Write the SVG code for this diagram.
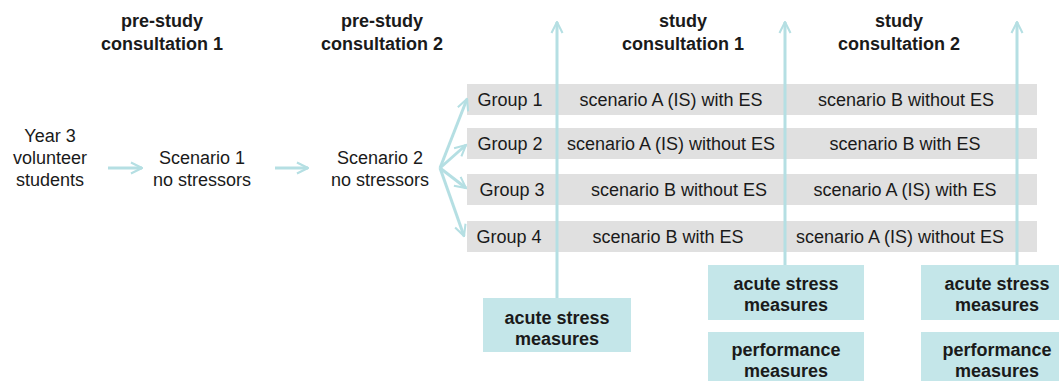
<svg xmlns="http://www.w3.org/2000/svg" width="1059" height="381" viewBox="0 0 1059 381">
<style>
text{font-family:"Liberation Sans",Arial,sans-serif;font-size:18px;fill:#1a1a1a;text-anchor:middle}
.h{font-weight:bold}
.bar{fill:#e0e0e0}
.box{fill:#c4e6e9}
.ln{stroke:#b5dfe3;stroke-width:3;fill:none}
</style>
<defs>
<marker id="ah" viewBox="0 0 10 10" refX="9" refY="5" markerWidth="4.6" markerHeight="4.6" orient="auto" markerUnits="strokeWidth">
<path d="M1,1 L9,5 L1,9" fill="none" stroke="#b5dfe3" stroke-width="1.5" stroke-linejoin="miter"/>
</marker>
</defs>
<rect width="1059" height="381" fill="#fff"/>
<g id="headers">
<text class="h" x="162" y="27">pre-study</text>
<text class="h" x="162" y="50">consultation 1</text>
<text class="h" x="382" y="27">pre-study</text>
<text class="h" x="382" y="50">consultation 2</text>
<text class="h" x="683" y="27">study</text>
<text class="h" x="683" y="50">consultation 1</text>
<text class="h" x="899" y="27">study</text>
<text class="h" x="899" y="50">consultation 2</text>
</g>
<g id="students"><text x="50" y="142">Year 3</text><text x="50" y="164">volunteer</text><text x="50" y="186">students</text></g>
<g id="scenario1"><text x="202" y="164">Scenario 1</text><text x="202" y="186">no stressors</text></g>
<g id="scenario2"><text x="380" y="164">Scenario 2</text><text x="380" y="186">no stressors</text></g>
<g id="group1"><rect class="bar" x="467" y="84" width="570" height="31"/><text x="510" y="106">Group 1</text><text x="671" y="106">scenario A (IS) with ES</text><text x="906" y="106">scenario B without ES</text></g>
<g id="group2"><rect class="bar" x="467" y="128" width="570" height="31"/><text x="510" y="150">Group 2</text><text x="671" y="150">scenario A (IS) without ES</text><text x="905" y="150">scenario B with ES</text></g>
<g id="group3"><rect class="bar" x="467" y="174" width="570" height="31"/><text x="512" y="196">Group 3</text><text x="679" y="196">scenario B without ES</text><text x="905" y="196">scenario A (IS) with ES</text></g>
<g id="group4"><rect class="bar" x="467" y="221" width="570" height="31"/><text x="509" y="243">Group 4</text><text x="668" y="243">scenario B with ES</text><text x="900" y="243">scenario A (IS) without ES</text></g>
<g id="connectors">
<line class="ln" x1="108" y1="168" x2="142" y2="168" marker-end="url(#ah)"/>
<line class="ln" x1="275" y1="168" x2="308" y2="168" marker-end="url(#ah)"/>
<line class="ln" x1="440" y1="168" x2="467" y2="99" marker-end="url(#ah)"/>
<line class="ln" x1="440" y1="168" x2="466" y2="145" marker-end="url(#ah)"/>
<line class="ln" x1="440" y1="168" x2="466" y2="188" marker-end="url(#ah)"/>
<line class="ln" x1="440" y1="168" x2="464" y2="236" marker-end="url(#ah)"/>
<line class="ln" x1="557" y1="298" x2="557" y2="22" marker-end="url(#ah)"/>
<line class="ln" x1="785" y1="265" x2="785" y2="22" marker-end="url(#ah)"/>
<line class="ln" x1="1017" y1="265" x2="1017" y2="22" marker-end="url(#ah)"/>
</g>
<g id="measure1"><rect class="box" x="483" y="298" width="148" height="54"/><text class="h" x="557" y="324">acute stress</text><text class="h" x="557" y="345">measures</text></g>
<g id="measure2"><rect class="box" x="708" y="265" width="156" height="55"/><text class="h" x="786" y="290">acute stress</text><text class="h" x="786" y="311">measures</text></g>
<g id="measure3"><rect class="box" x="921" y="265" width="152" height="55"/><text class="h" x="997" y="290">acute stress</text><text class="h" x="997" y="311">measures</text></g>
<g id="perf2"><rect class="box" x="708" y="332" width="156" height="49"/><text class="h" x="786" y="356">performance</text><text class="h" x="786" y="377">measures</text></g>
<g id="perf3"><rect class="box" x="921" y="332" width="152" height="49"/><text class="h" x="997" y="356">performance</text><text class="h" x="997" y="377">measures</text></g>
</svg>
